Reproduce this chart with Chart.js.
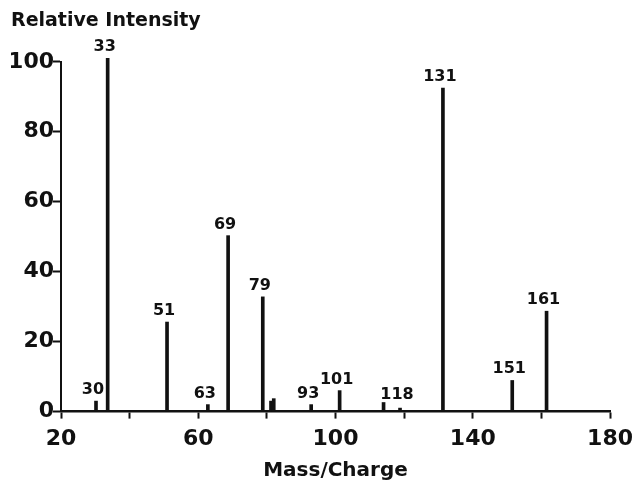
<!DOCTYPE html>
<html>
<head>
<meta charset="utf-8">
<script src="https://cdn.jsdelivr.net/npm/chart.js@4.4.1/dist/chart.umd.min.js"></script>
<style>
    body { margin: 0; background: #fff; }
    #wrap { width: 640px; height: 485px; }
</style>
</head>
<body>
<div id="wrap"><canvas id="spectrum"></canvas></div>
<script>
// peak positions (m/z), heights and the labels printed above them
const masses = [30.2, 33.6, 50.9, 62.8, 68.7, 78.8, 81.2, 82, 92.9, 101.2, 114, 118.8, 131.3, 151.5, 161.5];
const intensities = [3, 101, 25.6, 2, 50.3, 32.8, 3, 3.7, 2, 6, 2.6, 1, 92.5, 8.9, 28.7];
const peakLabels = ["30", "33", "51", "63", "69", "79", "", "", "93", "101", "", "118", "131", "151", "161"];

const xTickLabels = [20, 60, 100, 140, 180];

const boldFont = "'DejaVu Sans', sans-serif";

let points = [];
for (let i = 0; i < masses.length; i++) {
    points.push({ x: masses[i], y: intensities[i] });
}

// writes the mass number over each peak
const peakLabelPlugin = {
    id: "peakLabels",
    afterDatasetsDraw(chart) {
        let ctx = chart.ctx;
        let meta = chart.getDatasetMeta(0);
        let zeroY = chart.scales.y.getPixelForValue(0);
        ctx.save();
        ctx.font = "bold 16px " + boldFont;
        ctx.fillStyle = "#111";
        ctx.textAlign = "center";
        ctx.textBaseline = "alphabetic";
        meta.data.forEach(function (bar, i) {
            if (!peakLabels[i]) return;
            let y = Math.min(bar.y - 7, zeroY - 13);
            ctx.fillText(peakLabels[i], bar.x - 3, y);
        });
        ctx.restore();
    }
};

let ctx = document.getElementById("spectrum").getContext("2d");

let chart = new Chart(ctx, {
    type: "bar",
    data: {
        datasets: [{
            data: points,
            backgroundColor: "#111",
            borderWidth: 0,
            barThickness: 3,
            clip: false
        }]
    },
    options: {
        responsive: true,
        maintainAspectRatio: false,
        animation: false,
        layout: { padding: { left: 11, right: 25, top: 0, bottom: 2 } },
        plugins: {
            legend: { display: false },
            tooltip: { enabled: false },
            title: {
                display: true,
                text: "Relative Intensity",
                align: "start",
                color: "#111",
                font: { family: boldFont, size: 19, weight: "bold" },
                padding: { top: 10, bottom: 29 }
            }
        },
        scales: {
            x: {
                type: "linear",
                min: 20,
                max: 180,
                offset: false,
                ticks: {
                    stepSize: 20,
                    color: "#111",
                    padding: 7,
                    maxRotation: 0,
                    autoSkip: false,
                    font: { family: boldFont, size: 22, weight: "bold" },
                    callback: function (value) {
                        return xTickLabels.includes(value) ? String(value) : "";
                    }
                },
                grid: {
                    offset: false,
                    drawOnChartArea: false,
                    drawTicks: true,
                    tickLength: 7,
                    tickWidth: 2,
                    color: "#111"
                },
                border: { color: "#111", width: 2.5 },
                title: {
                    display: true,
                    text: "Mass/Charge",
                    color: "#111",
                    font: { family: boldFont, size: 20, weight: "bold" },
                    padding: { top: 0, bottom: 0 }
                }
            },
            y: {
                min: 0,
                max: 100,
                afterFit: function (scale) {
                    scale.width = 50;
                },
                ticks: {
                    stepSize: 20,
                    color: "#111",
                    padding: -1,
                    font: { family: boldFont, size: 22, weight: "bold" }
                },
                grid: {
                    drawOnChartArea: false,
                    drawTicks: true,
                    tickLength: 8,
                    tickWidth: 2,
                    color: "#111"
                },
                border: { color: "#111", width: 2 }
            }
        }
    },
    plugins: [peakLabelPlugin]
});
</script>
</body>
</html>
